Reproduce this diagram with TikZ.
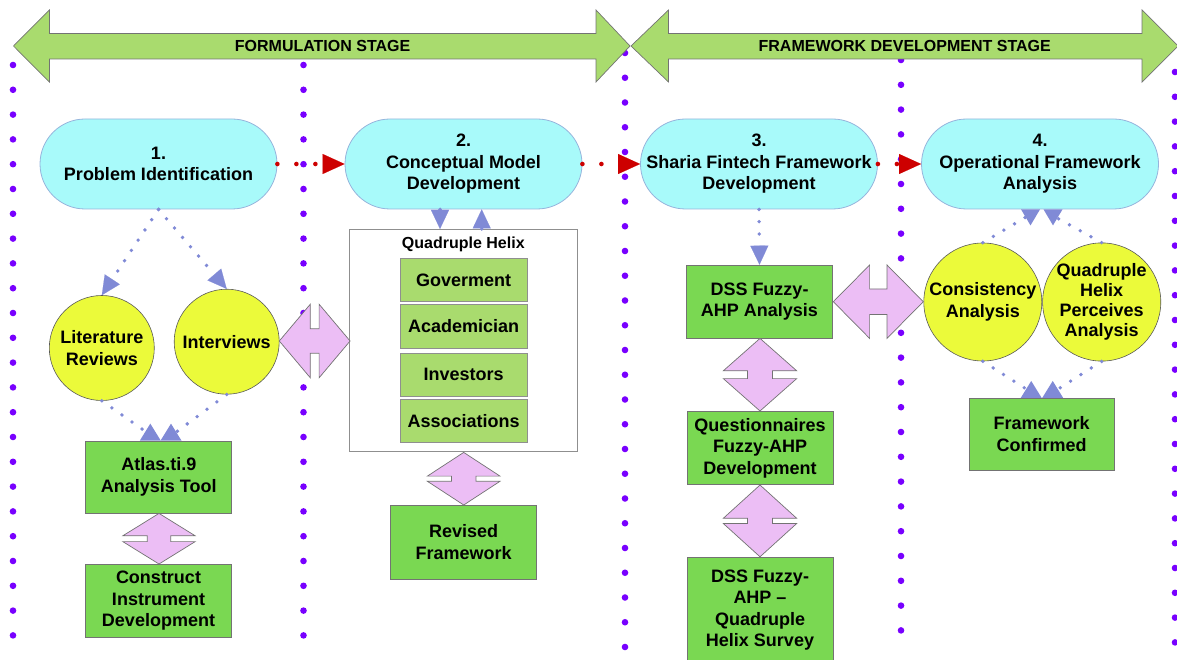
\documentclass[tikz,border=0pt]{standalone}
\usepackage{fontspec}
\setmainfont{Liberation Sans}
\usetikzlibrary{arrows.meta,calc}
\definecolor{cyanfill}{RGB}{168,250,250}
\definecolor{cyanline}{RGB}{150,180,220}
\definecolor{boxgreen}{RGB}{122,216,82}
\definecolor{lightgreen}{RGB}{169,219,110}
\definecolor{yelfill}{RGB}{235,250,58}
\definecolor{pinkfill}{RGB}{236,190,245}
\definecolor{purpdot}{RGB}{120,0,255}
\definecolor{connblue}{RGB}{128,138,214}
\definecolor{redconn}{RGB}{205,0,0}
\definecolor{edgegray}{RGB}{115,115,115}
% vertical double arrow: cx cy L W s H
\newcommand\DArrV[6]{%
  \draw[dblarrow] (#1,#2-#3) -- (#1+#4,#2-#3+#6) -- (#1+#5,#2-#3+#6) -- (#1+#5,#2+#3-#6) -- (#1+#4,#2+#3-#6) -- (#1,#2+#3) -- (#1-#4,#2+#3-#6) -- (#1-#5,#2+#3-#6) -- (#1-#5,#2-#3+#6) -- (#1-#4,#2-#3+#6) -- cycle;}
% horizontal double arrow: cx cy L W s H
\newcommand\DArrH[6]{%
  \draw[dblarrow] (#1-#3,#2) -- (#1-#3+#6,#2-#4) -- (#1-#3+#6,#2-#5) -- (#1+#3-#6,#2-#5) -- (#1+#3-#6,#2-#4) -- (#1+#3,#2) -- (#1+#3-#6,#2+#4) -- (#1+#3-#6,#2+#5) -- (#1-#3+#6,#2+#5) -- (#1-#3+#6,#2+#4) -- cycle;}
\tikzset{
  uptri/.pic={\fill[connblue] (-10.5,0) -- (0,-17) -- (10.5,0) -- cycle;},
  dntri/.pic={\fill[connblue] (-9.5,0) -- (0,16) -- (9.5,0) -- cycle;}
}
\begin{document}
\begin{tikzpicture}[x=1pt,y=-1pt,
  mainfont/.style={font=\bfseries\fontsize{18pt}{21.5pt}\selectfont},
  term/.style={draw=cyanline, line width=0.8pt, fill=cyanfill, rounded corners=45pt,
    minimum width=237pt, minimum height=90pt, inner sep=0pt, align=center, mainfont},
  circ/.style={circle, draw=black!65, line width=0.6pt, fill=yelfill, inner sep=0pt,
    align=center, mainfont},
  gbox/.style={draw=edgegray, line width=0.7pt, fill=boxgreen, minimum width=146pt,
    inner sep=0pt, align=center, mainfont},
  lbox/.style={draw=edgegray!80, line width=0.7pt, fill=lightgreen, minimum width=127.3pt,
    minimum height=43.3pt, inner sep=0pt, mainfont},
  banner/.style={draw=edgegray, line width=0.7pt, fill=lightgreen},
  btext/.style={font=\bfseries\fontsize{16pt}{19pt}\selectfont},
  dblarrow/.style={draw=edgegray, line width=0.7pt, fill=pinkfill, line join=miter},
  conndot/.style={draw=connblue, line width=3.8pt, line cap=round, dash pattern=on 0pt off 12.3pt},
  conna/.style={conndot, -{Triangle[length=19pt,width=18pt,line width=0.1pt]}},
  redarrow/.style={draw=redconn, line width=4.6pt, line cap=round, dash pattern=on 0pt off 19pt,
    -{Triangle[length=22pt,width=20pt,line width=0.1pt]}}
]
\useasboundingbox (0,0) rectangle (1177,660);

% purple dotted column separators
\foreach \i in {0,...,23} {\fill[purpdot] (13,65+24.8*\i) circle (3.3pt);}
\foreach \i in {0,...,23} {\fill[purpdot] (303.5,65+24.8*\i) circle (3.3pt);}
\foreach \i in {0,...,24} {\fill[purpdot] (625,53+24.75*\i) circle (3.3pt);}
\foreach \i in {0,...,23} {\fill[purpdot] (901,60+24.8*\i) circle (3.3pt);}
\foreach \i in {0,...,23} {\fill[purpdot] (1175,72+24.8*\i) circle (3.3pt);}

% stage banners
\draw[banner] (13.5,46) -- (49.4,10) -- (49.4,33.5) -- (596,33.5) -- (596,10) -- (630,46)
  -- (596,82) -- (596,59) -- (49.4,59) -- (49.4,82) -- cycle;
\draw[banner] (631,46) -- (668.5,10) -- (668.5,33.5) -- (1142,33.5) -- (1142,10) -- (1178,46)
  -- (1142,82) -- (1142,59) -- (668.5,59) -- (668.5,82) -- cycle;
\node[btext] (fstage) at (322.6,46) {FORMULATION STAGE};
\node[btext] (dstage) at (904.7,46) {FRAMEWORK DEVELOPMENT STAGE};

% terminators
\node[term] (n1) at (158.5,164) {1.\\Problem Identification};
\node[term] (n2) at (463.5,164) {2.\\Conceptual Model\\Development};
\node[term] (n3) at (759,164) {3.\\Sharia Fintech Framework\\Development};
\node[term] (n4) at (1040,164) {4.\\Operational Framework\\Analysis};

% circles
\node[circ, minimum size=105pt] (lit) at (101.8,348) {Literature\\Reviews};
\node[circ, minimum size=105pt] (int) at (226.7,341.7) {Interviews};
\node[circ, minimum size=118pt] (cons) at (982.8,302) {Consistency\\Analysis};
\node[circ, minimum size=118pt, font=\bfseries\fontsize{18pt}{20pt}\selectfont] (qhp) at (1101.7,302) {Quadruple\\Helix\\Perceives\\Analysis};

% quadruple helix group
\node[draw=edgegray!80, line width=0.7pt, fill=white, minimum width=228pt, minimum height=221.7pt, inner sep=0pt] (qh) at (463.3,340.15) {};
\node[font=\bfseries\fontsize{16pt}{19pt}\selectfont] (qht) at (463.3,244) {Quadruple Helix};
\node[lbox] (gov) at (463.7,280) {Goverment};
\node[lbox] (aca) at (463.7,326.3) {Academician};
\node[lbox] (inv) at (463.7,374.7) {Investors};
\node[lbox] (ass) at (463.7,420.7) {Associations};

% green boxes
\node[gbox, minimum height=72pt] (atlas) at (158.8,477) {Atlas.ti.9\\Analysis Tool};
\node[gbox, minimum height=73.3pt] (constr) at (158.5,600.7) {Construct\\Instrument\\Development};
\node[gbox, minimum height=74pt] (rev) at (463.7,542) {Revised\\Framework};
\node[gbox, minimum width=145.6pt, minimum height=73.3pt] (dss) at (759.5,301.7) {DSS Fuzzy-\\AHP Analysis};
\node[gbox, minimum height=72.3pt] (quest) at (760,447.9) {Questionnaires\\Fuzzy-AHP\\Development};
\node[gbox, minimum height=104.3pt] (survey) at (760,609.9) {DSS Fuzzy-\\AHP –\\Quadruple\\Helix Survey};
\node[gbox, minimum width=145.3pt, minimum height=72pt] (fconf) at (1041.7,434.3) {Framework\\Confirmed};

% red stage-flow connectors
\draw[redarrow] (n1.east) -- (n2.west);
\draw[redarrow] (n2.east) -- (n3.west);
\draw[redarrow] (n3.east) -- (n4.west);

% blue dotted connectors
\draw[conna] (n1.south) -- (lit.north);
\draw[conna] (n1.south) -- (int.north);
\draw[conna] (n3.south) -- (dss.north);
\draw[conna] (n2.south -| 440,0) -- (qh.north -| 440,0);
\draw[conna] (qh.north -| 481.7,0) -- (n2.south -| 481.7,0);
\draw[conndot] (lit.south) -- ($(atlas.north)+(-6,-4)$);
\draw[conndot] (int.south) -- ($(atlas.north)+(14,-6)$);
\draw[conndot] (cons.north) -- ($(n4.south)+(-13,7)$);
\draw[conndot] (qhp.north) -- ($(n4.south)+(16,8)$);
\draw[conndot] (cons.south) -- ($(fconf.north)+(-14,-8)$);
\draw[conndot] (qhp.south) -- ($(fconf.north)+(15,-8)$);
\pic at ($(atlas.north)+(-8.5,0)$) {uptri};
\pic at ($(atlas.north)+(12.2,0)$) {uptri};
\pic at ($(n4.south)+(-9.5,0)$) {dntri};
\pic at ($(n4.south)+(13,0)$) {dntri};
\pic at ($(fconf.north)+(-10.5,0)$) {uptri};
\pic at ($(fconf.north)+(11,0)$) {uptri};

% pink double arrows
\DArrV{159}{538.7}{25.3}{36.2}{11.7}{22.4}
\DArrH{314.7}{341}{35.4}{36.8}{12.2}{31}
\DArrV{463.7}{478.7}{26.3}{36.3}{12.2}{23.7}
\DArrH{878.3}{301.7}{45}{36.7}{12.8}{36.3}
\DArrV{760}{374.7}{36.3}{36.7}{12.5}{32.4}
\DArrV{760}{520.9}{35.9}{36.7}{12.5}{33.3}
\end{tikzpicture}
\end{document}
